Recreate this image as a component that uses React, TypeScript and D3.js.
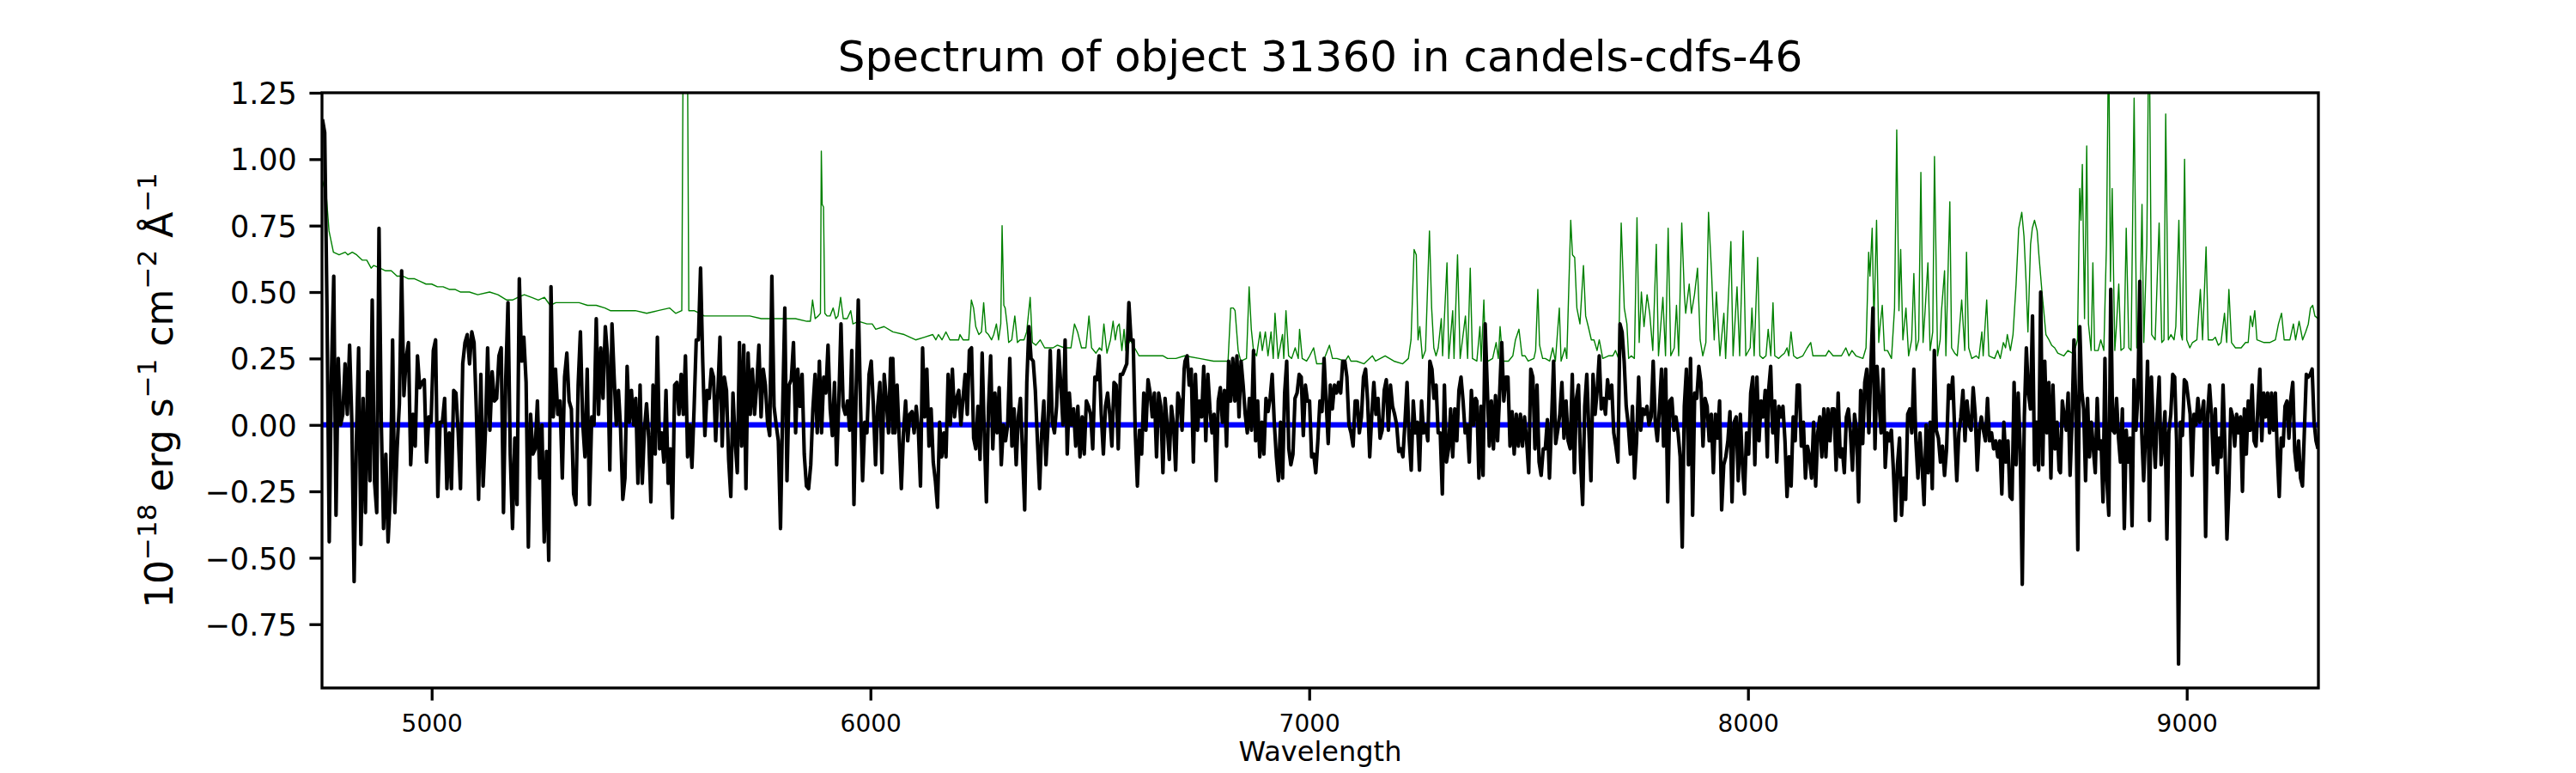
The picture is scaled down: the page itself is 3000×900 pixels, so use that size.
import { useEffect, useRef } from 'react';
import * as d3 from 'd3';

// figure geometry (px)
const W = 3000;
const H = 900;
const plot = { left: 375, right: 2700, top: 108, bottom: 801 };

const xDomain = [4750, 9300];
const yDomain = [-0.99, 1.25];
const xTicks = [5000, 6000, 7000, 8000, 9000];
const yTicks = [-0.75, -0.5, -0.25, 0, 0.25, 0.5, 0.75, 1.0, 1.25];
const zeroLevel = 0;

const title = 'Spectrum of object 31360 in candels-cdfs-46';
const xLabel = 'Wavelength';

// black flux: wavelength span of each stretch, samples spread evenly across it
const fluxRanges = [
  [4751, 5406],
  [5406, 6051],
  [6051, 6715],
  [6717, 7379],
  [7382, 8044],
  [8047, 8709],
  [8712, 9299],
];

const flux1 = [1.15, 1.1, 0.45, -0.44, 0.2, 0.56, -0.34, 0.25, 0.0, 0.04, 0.23, 0.04, 0.3, 0.01, -0.59, -0.06, 0.29, -0.45, 0.1, -0.33, 0.2, -0.21, 0.47, -0.21, -0.33, 0.74, 0.01, -0.39, -0.11, -0.44, -0.26, 0.32, -0.33, -0.09, 0.08, 0.58, 0.11, 0.25, 0.31, -0.15, 0.04, -0.08, 0.26, 0.14, 0.16, 0.17, -0.14, 0.03, 0.01, 0.28, 0.32, -0.27, 0.01, 0.01, 0.1, -0.24, -0.03, -0.24, 0.13, 0.12, -0.03, -0.24, 0.23, 0.31, 0.34, 0.23, 0.35, 0.31, 0.06, -0.28, 0.19, -0.23, -0.03, 0.29, -0.02, 0.2, 0.09, 0.1, 0.26, 0.29, -0.33, 0.17, 0.46, -0.11, -0.39, -0.05, -0.3, 0.55, 0.24, 0.33, 0.16, -0.46, 0.04, -0.11, -0.09, 0.09, -0.2, 0.0, -0.44, -0.1, -0.51, 0.52, 0.03, 0.21, 0.04, 0.09, -0.2, 0.18, 0.27, 0.09, 0.06, -0.26, -0.3, 0.15, 0.35, 0.01, -0.12, 0.21, -0.3, 0.03, 0.0, 0.4, 0.04, 0.29, 0.1, 0.37, 0.26, -0.17];

const flux2 = [-0.16, 0.38, 0.18, 0.0, 0.13, -0.02, -0.28, -0.2, 0.22, 0.01, 0.13, 0.0, 0.1, -0.22, 0.15, -0.22, -0.02, 0.08, -0.05, -0.29, 0.15, -0.11, 0.33, -0.09, -0.03, -0.14, 0.13, -0.22, -0.09, -0.35, 0.15, 0.16, 0.04, 0.19, 0.04, 0.26, -0.12, 0.0, -0.16, 0.06, 0.32, 0.32, 0.59, 0.24, -0.04, 0.13, 0.1, 0.21, 0.18, -0.06, 0.12, 0.33, -0.08, 0.18, 0.13, -0.13, -0.27, 0.12, -0.06, -0.18, 0.31, -0.08, 0.3, -0.24, 0.27, 0.04, 0.21, 0.04, 0.15, 0.3, 0.03, 0.21, 0.15, 0.01, -0.04, 0.56, 0.07, 0.0, -0.06, -0.39, 0.06, 0.44, -0.21, 0.15, 0.17, 0.31, -0.03, 0.21, 0.07, 0.19, -0.11, -0.23, -0.24, -0.15, 0.06, 0.19, -0.03, 0.24, -0.03, 0.18, 0.12, 0.3, 0.06, -0.04, 0.16, -0.15, 0.09, 0.38, 0.07, 0.04, 0.09, -0.02, 0.28, -0.3, 0.12, 0.47, 0.09, -0.21, 0.01, -0.03, 0.19, 0.24, 0.07, -0.15, 0.07, 0.16, -0.18, 0.19, 0.09, -0.03, 0.25, -0.03];

const flux3 = [0.25, -0.03, 0.15, -0.05, -0.24, -0.03, 0.09, -0.06, 0.04, 0.05, -0.03, 0.07, -0.02, -0.23, 0.29, 0.03, 0.21, -0.08, 0.06, -0.14, -0.21, -0.31, 0.01, -0.12, -0.03, -0.12, 0.19, 0.0, 0.21, 0.03, 0.1, 0.13, 0.0, 0.1, 0.19, 0.04, 0.28, 0.29, -0.05, -0.09, 0.07, -0.13, 0.27, -0.03, -0.29, 0.07, 0.26, -0.09, 0.12, -0.03, 0.14, -0.15, 0.0, -0.06, 0.0, 0.25, -0.08, 0.06, -0.15, 0.03, 0.1, -0.11, -0.32, 0.16, 0.37, 0.25, 0.24, 0.13, -0.06, -0.24, -0.03, 0.09, -0.15, 0.0, 0.28, 0.01, -0.03, 0.07, 0.28, 0.15, 0.0, 0.32, -0.11, 0.12, 0.0, 0.06, -0.08, 0.07, -0.12, 0.03, -0.11, 0.09, 0.07, 0.04, -0.09, 0.18, 0.17, 0.26, 0.04, -0.11, 0.07, 0.12, 0.04, -0.08, 0.16, 0.15, -0.09, 0.19, 0.19, 0.21, 0.23, 0.46, 0.32, 0.32, -0.03, -0.23, -0.02, -0.11, 0.12, -0.02, 0.17, 0.12, 0.03, 0.12, -0.12, 0.12, 0.07, -0.18, 0.1, 0.0, -0.13, 0.07, 0.0, -0.17, 0.12, 0.09, -0.02, 0.21];

const flux4 = [0.24, 0.26, 0.15, 0.21, -0.14, 0.19, -0.02, 0.09, 0.03, 0.22, -0.06, 0.19, 0.06, -0.03, 0.04, -0.21, 0.09, 0.14, 0.01, 0.13, -0.08, 0.24, 0.09, 0.25, 0.09, 0.26, 0.03, 0.24, 0.15, 0.04, -0.03, 0.1, -0.02, 0.28, -0.06, 0.09, -0.12, 0.01, -0.11, 0.1, 0.05, 0.1, 0.19, 0.01, -0.12, -0.21, 0.01, -0.2, 0.12, 0.24, -0.09, -0.15, -0.11, 0.1, 0.12, 0.19, 0.18, -0.04, 0.15, 0.09, 0.09, -0.12, -0.11, -0.18, -0.06, 0.09, 0.05, 0.25, 0.09, -0.07, 0.15, 0.06, 0.15, 0.12, 0.16, 0.12, 0.24, 0.24, 0.18, 0.0, -0.03, -0.08, 0.09, 0.09, -0.03, 0.03, 0.18, 0.21, 0.09, -0.12, 0.04, 0.16, 0.04, 0.1, -0.05, -0.02, 0.13, 0.17, -0.02, 0.15, 0.07, 0.04, 0.0, -0.1, -0.09, -0.12, 0.01, 0.16, -0.05, -0.17, 0.09, -0.03, 0.01, -0.17, 0.09, -0.03, 0.0, -0.06, 0.24, 0.21, 0.1, 0.15, -0.03, -0.03, -0.26, 0.15, -0.14, -0.09, 0.06, -0.12, 0.06, -0.06, 0.13, 0.18, 0.09, -0.03, 0.0, -0.14, 0.13, 0.0, 0.1];

const flux5 = [0.09, -0.2, 0.07, -0.19, 0.38, 0.15, -0.08, 0.09, -0.09, 0.11, -0.06, 0.12, 0.31, 0.09, 0.18, 0.18, -0.08, 0.05, -0.11, 0.04, -0.08, 0.04, -0.08, 0.03, -0.06, -0.18, 0.21, 0.18, -0.09, 0.15, -0.14, -0.19, -0.09, -0.09, 0.02, -0.2, 0.01, 0.24, -0.07, -0.02, 0.04, 0.16, -0.05, 0.09, -0.06, -0.09, 0.19, -0.18, 0.1, 0.15, -0.14, -0.3, 0.07, 0.19, -0.02, -0.21, 0.19, 0.04, 0.13, 0.26, 0.06, 0.1, 0.04, 0.17, 0.1, 0.15, -0.03, -0.08, -0.14, 0.38, 0.35, 0.24, 0.07, 0.0, -0.11, 0.07, -0.2, -0.06, 0.18, -0.02, 0.06, 0.04, 0.07, 0.0, 0.03, 0.24, 0.01, -0.06, 0.06, 0.21, -0.08, 0.21, -0.29, 0.09, 0.1, -0.02, 0.03, -0.03, -0.12, -0.46, 0.07, 0.21, -0.15, 0.25, -0.34, 0.12, 0.1, 0.22, 0.16, -0.08, 0.1, 0.07, -0.06, 0.04, -0.18, 0.04, -0.05, 0.09, -0.32, -0.15, -0.12, -0.06, 0.05, -0.29, 0.01, 0.03, -0.21, 0.04, -0.15, -0.26, -0.03, -0.11, 0.12, 0.18, -0.15, 0.18, -0.06, 0.09, 0.03, 0.13, -0.12];

const flux6 = [0.13, 0.22, -0.03, 0.09, -0.14, 0.07, 0.03, 0.07, -0.06, -0.27, -0.12, -0.23, 0.03, -0.06, 0.15, 0.15, -0.08, 0.01, -0.2, -0.08, -0.12, -0.2, 0.01, -0.23, -0.03, 0.03, -0.12, 0.06, -0.12, 0.06, -0.06, 0.06, 0.06, -0.17, 0.12, -0.12, -0.09, -0.18, 0.03, 0.06, -0.03, -0.17, 0.04, -0.02, -0.29, 0.13, -0.07, 0.16, 0.21, -0.03, 0.22, 0.44, -0.09, 0.22, 0.09, -0.03, 0.21, -0.16, -0.03, -0.06, -0.02, -0.17, -0.36, -0.15, -0.05, -0.34, -0.2, -0.28, 0.04, 0.06, -0.03, 0.21, -0.06, -0.2, -0.03, -0.15, -0.3, 0.0, -0.18, 0.01, -0.24, 0.28, -0.02, -0.05, -0.14, -0.08, -0.19, -0.09, 0.15, 0.1, 0.18, -0.03, -0.21, -0.03, 0.03, 0.13, -0.06, 0.09, 0.0, -0.02, 0.14, 0.04, -0.17, -0.02, 0.03, -0.02, -0.06, 0.1, -0.06, -0.03, -0.09, -0.06, -0.12, -0.06, -0.26, 0.01, -0.14, -0.06, -0.27, -0.28, 0.16, -0.15, 0.12, -0.09, -0.6, 0.03, 0.29, 0.12, 0.06, 0.41, -0.15, 0.01, -0.17, 0.5, -0.15, 0.24, -0.03, 0.16, -0.2, 0.15, -0.09, 0.01, -0.17];

const flux7 = [-0.18, 0.09, 0.03, -0.02, 0.12, -0.19, 0.01, 0.32, 0.07, -0.47, 0.37, 0.13, 0.06, -0.21, 0.1, -0.12, 0.01, -0.09, -0.18, 0.1, -0.09, -0.06, -0.29, 0.25, -0.21, -0.34, 0.51, -0.02, -0.03, 0.1, -0.05, -0.14, 0.06, -0.39, -0.02, -0.14, -0.05, -0.38, 0.17, -0.02, 0.11, 0.54, -0.03, -0.21, -0.03, 0.24, -0.36, 0.18, -0.03, -0.16, 0.04, 0.18, -0.15, -0.06, 0.05, -0.43, -0.03, 0.04, 0.19, 0.18, -0.06, -0.9, 0.01, -0.04, 0.17, 0.16, 0.1, 0.04, -0.19, 0.04, 0.0, 0.1, 0.01, 0.04, 0.09, -0.42, 0.04, 0.15, 0.04, -0.15, 0.06, -0.18, -0.05, -0.12, 0.15, -0.09, -0.43, -0.24, 0.06, 0.03, -0.08, 0.04, -0.03, 0.03, -0.25, 0.06, -0.11, 0.09, -0.02, 0.15, -0.06, -0.08, 0.07, 0.21, -0.06, 0.12, 0.03, 0.12, -0.03, 0.12, -0.02, 0.12, -0.11, -0.27, -0.05, -0.08, 0.07, 0.09, -0.05, 0.1, 0.16, -0.1, -0.17, -0.06, -0.2, -0.23, -0.02, 0.19, 0.18, 0.19, 0.21, 0.01, -0.06, -0.09];

const fluxStretches = [flux1, flux2, flux3, flux4, flux5, flux6, flux7];

// green curve, [wavelength, value]
const err1 = [[4751, 0.92], [4760, 0.86], [4766, 0.73], [4776, 0.65], [4789, 0.64], [4803, 0.65], [4809, 0.64], [4819, 0.65], [4829, 0.64], [4842, 0.62], [4852, 0.62], [4862, 0.59], [4868, 0.6], [4882, 0.59], [4895, 0.58], [4908, 0.58], [4921, 0.56], [4934, 0.56], [4947, 0.55], [4961, 0.55], [4974, 0.54], [4987, 0.53], [5000, 0.53], [5013, 0.52], [5026, 0.52], [5040, 0.51], [5053, 0.51], [5066, 0.5], [5086, 0.5], [5105, 0.49], [5132, 0.5], [5151, 0.49], [5171, 0.47], [5184, 0.47], [5197, 0.48], [5211, 0.49], [5227, 0.48], [5243, 0.47], [5257, 0.48], [5270, 0.45], [5283, 0.46], [5303, 0.46], [5316, 0.46], [5336, 0.46], [5355, 0.45], [5375, 0.45], [5395, 0.44], [5407, 0.43]];

const err2 = [[5412, 0.43], [5438, 0.43], [5464, 0.43], [5490, 0.42], [5516, 0.43], [5542, 0.44], [5556, 0.42], [5570, 0.43], [5578, 3.0], [5586, 0.43], [5598, 0.43], [5611, 0.42], [5621, 0.41], [5647, 0.41], [5673, 0.41], [5699, 0.41], [5725, 0.41], [5751, 0.4], [5777, 0.4], [5803, 0.4], [5829, 0.4], [5855, 0.39], [5863, 0.39], [5868, 0.47], [5874, 0.4], [5881, 0.41], [5886, 0.42], [5888, 1.03], [5890, 0.83], [5893, 0.82], [5896, 0.42], [5901, 0.41], [5908, 0.41], [5915, 0.44], [5921, 0.4], [5926, 0.41], [5932, 0.48], [5938, 0.4], [5947, 0.4], [5955, 0.43], [5960, 0.38], [5973, 0.39], [5992, 0.38], [6004, 0.38], [6012, 0.36], [6031, 0.37], [6051, 0.35]];

const err3 = [[6077, 0.34], [6103, 0.32], [6123, 0.33], [6142, 0.34], [6149, 0.32], [6155, 0.34], [6163, 0.32], [6172, 0.35], [6181, 0.32], [6201, 0.32], [6204, 0.34], [6211, 0.32], [6224, 0.32], [6230, 0.47], [6235, 0.44], [6240, 0.37], [6247, 0.34], [6253, 0.35], [6258, 0.46], [6263, 0.35], [6269, 0.34], [6276, 0.32], [6281, 0.34], [6287, 0.38], [6292, 0.32], [6297, 0.38], [6300, 0.75], [6304, 0.45], [6307, 0.44], [6312, 0.37], [6315, 0.31], [6322, 0.32], [6329, 0.41], [6335, 0.31], [6341, 0.32], [6350, 0.32], [6356, 0.35], [6364, 0.48], [6369, 0.31], [6377, 0.3], [6387, 0.32], [6397, 0.29], [6416, 0.29], [6426, 0.3], [6442, 0.29], [6457, 0.29], [6465, 0.38], [6472, 0.35], [6481, 0.29], [6491, 0.29], [6498, 0.41], [6504, 0.29], [6514, 0.27], [6522, 0.29], [6527, 0.28], [6532, 0.38], [6539, 0.27], [6547, 0.32], [6553, 0.39], [6558, 0.32], [6563, 0.37], [6567, 0.38], [6573, 0.28], [6578, 0.36], [6582, 0.28], [6592, 0.32], [6602, 0.29], [6612, 0.26], [6628, 0.26], [6651, 0.26], [6667, 0.26], [6677, 0.25], [6696, 0.25], [6716, 0.26]];

const err4 = [[6750, 0.25], [6782, 0.24], [6815, 0.24], [6821, 0.44], [6827, 0.44], [6831, 0.43], [6838, 0.28], [6844, 0.24], [6857, 0.25], [6863, 0.52], [6868, 0.36], [6873, 0.28], [6880, 0.26], [6888, 0.35], [6893, 0.28], [6900, 0.35], [6906, 0.26], [6913, 0.35], [6918, 0.25], [6922, 0.42], [6929, 0.25], [6939, 0.34], [6942, 0.25], [6947, 0.43], [6953, 0.26], [6960, 0.25], [6968, 0.29], [6975, 0.25], [6978, 0.36], [6984, 0.25], [6994, 0.24], [7001, 0.26], [7010, 0.29], [7017, 0.23], [7030, 0.23], [7046, 0.3], [7053, 0.25], [7063, 0.25], [7082, 0.24], [7089, 0.26], [7095, 0.24], [7108, 0.24], [7125, 0.23], [7131, 0.24], [7144, 0.26], [7151, 0.24], [7173, 0.26], [7193, 0.24], [7213, 0.23], [7226, 0.25], [7232, 0.32], [7239, 0.66], [7244, 0.64], [7248, 0.32], [7252, 0.37], [7258, 0.25], [7265, 0.28], [7274, 0.73], [7279, 0.44], [7284, 0.29], [7289, 0.26], [7294, 0.29], [7301, 0.4], [7304, 0.26], [7314, 0.61], [7318, 0.25], [7327, 0.43], [7330, 0.25], [7338, 0.64], [7344, 0.25], [7356, 0.41], [7361, 0.25], [7367, 0.59], [7372, 0.25], [7382, 0.24]];

const err5 = [[7389, 0.37], [7392, 0.24], [7398, 0.47], [7402, 0.25], [7408, 0.24], [7418, 0.25], [7426, 0.31], [7431, 0.25], [7435, 0.37], [7441, 0.24], [7454, 0.24], [7464, 0.26], [7470, 0.32], [7478, 0.36], [7485, 0.26], [7492, 0.26], [7499, 0.24], [7512, 0.25], [7516, 0.28], [7521, 0.51], [7525, 0.3], [7532, 0.25], [7538, 0.25], [7548, 0.24], [7555, 0.29], [7561, 0.24], [7570, 0.44], [7574, 0.24], [7583, 0.29], [7587, 0.25], [7596, 0.77], [7600, 0.64], [7605, 0.63], [7610, 0.44], [7617, 0.38], [7625, 0.6], [7630, 0.41], [7636, 0.37], [7643, 0.32], [7649, 0.32], [7656, 0.28], [7661, 0.32], [7669, 0.25], [7682, 0.26], [7692, 0.26], [7698, 0.28], [7705, 0.25], [7711, 0.76], [7718, 0.44], [7724, 0.38], [7728, 0.25], [7734, 0.26], [7741, 0.25], [7747, 0.78], [7752, 0.31], [7757, 0.5], [7763, 0.37], [7770, 0.49], [7776, 0.42], [7783, 0.28], [7791, 0.68], [7796, 0.26], [7806, 0.48], [7812, 0.26], [7818, 0.74], [7824, 0.26], [7832, 0.29], [7837, 0.45], [7842, 0.26], [7849, 0.76], [7855, 0.49], [7858, 0.42], [7866, 0.53], [7871, 0.42], [7878, 0.49], [7885, 0.59], [7891, 0.32], [7897, 0.26], [7904, 0.31], [7910, 0.8], [7917, 0.57], [7923, 0.32], [7928, 0.5], [7936, 0.26], [7945, 0.42], [7949, 0.25], [7961, 0.69], [7966, 0.26], [7975, 0.52], [7981, 0.26], [7989, 0.73], [7995, 0.26], [8005, 0.29], [8009, 0.44], [8014, 0.26], [8022, 0.63], [8027, 0.26], [8034, 0.25], [8041, 0.26], [8046, 0.36]];

const err6 = [[8052, 0.26], [8057, 0.46], [8061, 0.26], [8070, 0.25], [8076, 0.26], [8083, 0.27], [8089, 0.29], [8093, 0.26], [8098, 0.35], [8104, 0.26], [8112, 0.25], [8125, 0.26], [8135, 0.29], [8143, 0.31], [8148, 0.26], [8158, 0.26], [8168, 0.26], [8177, 0.26], [8184, 0.28], [8194, 0.26], [8203, 0.26], [8213, 0.26], [8223, 0.29], [8230, 0.26], [8237, 0.28], [8246, 0.26], [8262, 0.25], [8269, 0.29], [8275, 0.65], [8278, 0.56], [8283, 0.74], [8287, 0.38], [8293, 0.77], [8298, 0.31], [8301, 0.37], [8306, 0.45], [8311, 0.28], [8318, 0.28], [8327, 0.25], [8334, 0.44], [8339, 1.11], [8344, 0.43], [8348, 0.66], [8353, 0.32], [8360, 0.44], [8366, 0.26], [8373, 0.32], [8378, 0.57], [8383, 0.28], [8389, 0.32], [8394, 0.95], [8399, 0.31], [8404, 0.44], [8410, 0.61], [8415, 0.28], [8421, 0.35], [8425, 1.01], [8432, 0.26], [8438, 0.32], [8441, 0.43], [8448, 0.58], [8451, 0.26], [8460, 0.84], [8464, 0.29], [8471, 0.27], [8477, 0.26], [8487, 0.47], [8494, 0.28], [8498, 0.65], [8503, 0.29], [8510, 0.25], [8520, 0.26], [8526, 0.25], [8533, 0.35], [8536, 0.26], [8544, 0.47], [8549, 0.26], [8562, 0.25], [8569, 0.28], [8575, 0.25], [8582, 0.31], [8587, 0.29], [8591, 0.34], [8598, 0.28], [8604, 0.34], [8611, 0.53], [8617, 0.74], [8624, 0.8], [8629, 0.71], [8634, 0.53], [8638, 0.35], [8644, 0.68], [8648, 0.74], [8653, 0.77], [8659, 0.73], [8663, 0.64], [8670, 0.5], [8674, 0.43], [8679, 0.34], [8686, 0.32], [8692, 0.3], [8699, 0.29], [8706, 0.27]];

const err7 = [[8720, 0.26], [8729, 0.28], [8739, 0.27], [8746, 0.29], [8751, 0.32], [8756, 0.89], [8759, 0.77], [8762, 0.98], [8767, 0.4], [8772, 1.05], [8776, 0.38], [8782, 0.28], [8786, 0.61], [8790, 0.28], [8798, 0.28], [8804, 0.32], [8811, 0.28], [8817, 0.68], [8822, 1.5], [8826, 0.54], [8830, 0.89], [8836, 0.28], [8840, 0.38], [8845, 0.53], [8850, 0.28], [8857, 0.29], [8862, 0.74], [8868, 0.29], [8873, 0.28], [8880, 1.23], [8886, 0.29], [8892, 0.29], [8898, 0.83], [8902, 0.31], [8909, 0.68], [8914, 1.6], [8920, 0.34], [8928, 0.32], [8937, 0.76], [8943, 0.31], [8948, 0.32], [8952, 1.17], [8958, 0.32], [8964, 0.34], [8971, 0.32], [8975, 0.37], [8982, 0.77], [8987, 0.34], [8990, 0.32], [8995, 1.0], [9000, 0.32], [9007, 0.29], [9013, 0.31], [9023, 0.32], [9031, 0.51], [9036, 0.32], [9044, 0.67], [9049, 0.32], [9059, 0.32], [9065, 0.33], [9072, 0.3], [9078, 0.31], [9086, 0.42], [9091, 0.31], [9096, 0.51], [9102, 0.31], [9111, 0.29], [9124, 0.29], [9134, 0.31], [9140, 0.31], [9145, 0.41], [9150, 0.37], [9155, 0.43], [9160, 0.32], [9176, 0.31], [9189, 0.31], [9202, 0.32], [9209, 0.38], [9216, 0.42], [9222, 0.32], [9228, 0.32], [9235, 0.32], [9243, 0.38], [9248, 0.32], [9256, 0.39], [9264, 0.32], [9271, 0.35], [9277, 0.38], [9282, 0.44], [9287, 0.45], [9292, 0.41], [9299, 0.4]];

const FONT = '"DejaVu Sans", sans-serif';

export default function App() {
  const ref = useRef<SVGSVGElement | null>(null);

  useEffect(() => {
    const el = ref.current;
    if (!el) return;

    const svg = d3.select(el);
    svg.selectAll('*').remove();

    const x = d3.scaleLinear().domain(xDomain).range([plot.left, plot.right]);
    const y = d3.scaleLinear().domain(yDomain).range([plot.bottom, plot.top]);

    const fluxPoints: [number, number][] = fluxStretches.flatMap((vals, k) => {
      const [a, b] = fluxRanges[k];
      return vals.map((v, i) => [a + ((b - a) * i) / (vals.length - 1), v] as [number, number]);
    });
    const errPoints = [...err1, ...err2, ...err3, ...err4, ...err5, ...err6, ...err7] as [number, number][];
    const zeroPoints: [number, number][] = xDomain.map((w) => [w, zeroLevel]);

    svg.append('rect').attr('width', W).attr('height', H).attr('fill', '#ffffff');

    svg
      .append('defs')
      .append('clipPath')
      .attr('id', 'axes-clip')
      .append('rect')
      .attr('x', plot.left)
      .attr('y', plot.top)
      .attr('width', plot.right - plot.left)
      .attr('height', plot.bottom - plot.top);

    const line = d3
      .line<[number, number]>()
      .x((d) => x(d[0]))
      .y((d) => y(d[1]));

    const g = svg.append('g').attr('clip-path', 'url(#axes-clip)');

    g.append('path')
      .datum(errPoints)
      .attr('d', line)
      .attr('fill', 'none')
      .attr('stroke', '#008000')
      .attr('stroke-width', 1.4)
      .attr('stroke-linejoin', 'round');

    g.append('path')
      .datum(zeroPoints)
      .attr('d', line)
      .attr('fill', 'none')
      .attr('stroke', '#0000ff')
      .attr('stroke-width', 6.25);

    g.append('path')
      .datum(fluxPoints)
      .attr('d', line)
      .attr('fill', 'none')
      .attr('stroke', '#000000')
      .attr('stroke-width', 4.17)
      .attr('stroke-linejoin', 'round');

    // axes
    const xAxis = svg
      .append('g')
      .attr('transform', `translate(0,${plot.bottom})`)
      .call(d3.axisBottom(x).tickValues(xTicks).tickSize(14.6).tickPadding(16.5).tickFormat(d3.format('d')));
    const yAxis = svg
      .append('g')
      .attr('transform', `translate(${plot.left},0)`)
      .call(d3.axisLeft(y).tickValues(yTicks).tickSize(14.6).tickPadding(14.6).tickFormat(d3.format('.2f')));

    [xAxis, yAxis].forEach((ax) => {
      ax.select('.domain').remove();
      ax.selectAll('line').attr('stroke', '#000').attr('stroke-width', 3.3);
      ax.selectAll('text').attr('fill', '#000').attr('font-family', FONT);
    });
    xAxis.selectAll('text').attr('font-size', 28);
    yAxis.selectAll('text').attr('font-size', 35).attr('dy', '0.36em');

    // frame
    svg
      .append('rect')
      .attr('x', plot.left)
      .attr('y', plot.top)
      .attr('width', plot.right - plot.left)
      .attr('height', plot.bottom - plot.top)
      .attr('fill', 'none')
      .attr('stroke', '#000')
      .attr('stroke-width', 3.3);

    const cx = (plot.left + plot.right) / 2;

    svg
      .append('text')
      .text(title)
      .attr('x', cx)
      .attr('y', 83)
      .attr('text-anchor', 'middle')
      .attr('font-family', FONT)
      .attr('font-size', 50)
      .attr('fill', '#000');

    svg
      .append('text')
      .text(xLabel)
      .attr('x', cx)
      .attr('y', 886)
      .attr('text-anchor', 'middle')
      .attr('font-family', FONT)
      .attr('font-size', 32)
      .attr('fill', '#000');

    // y label: 10^-18 erg s^-1 cm^-2 Å^-1
    const yl = svg
      .append('text')
      .attr('transform', `translate(201,${(plot.top + plot.bottom) / 2}) rotate(-90)`)
      .attr('text-anchor', 'middle')
      .attr('font-family', FONT)
      .attr('font-size', 44)
      .attr('fill', '#000');
    const parts: [string, boolean][] = [
      ['10', false],
      ['\u221218', true],
      [' erg s', false],
      ['\u22121', true],
      [' cm', false],
      ['\u22122', true],
      [' \u00c5', false],
      ['\u22121', true],
    ];
    let raised = false;
    parts.forEach(([t, sup]) => {
      const ts = yl.append('tspan').text(t);
      if (sup) {
        ts.attr('font-size', 31).attr('dy', raised ? 0 : -19);
        raised = true;
      } else {
        ts.attr('dy', raised ? 19 : 0);
        raised = false;
      }
    });
  }, []);

  return (
    <svg
      ref={ref}
      width={W}
      height={H}
      style={{ position: 'absolute', left: 0, top: 0, display: 'block' }}
    />
  );
}
